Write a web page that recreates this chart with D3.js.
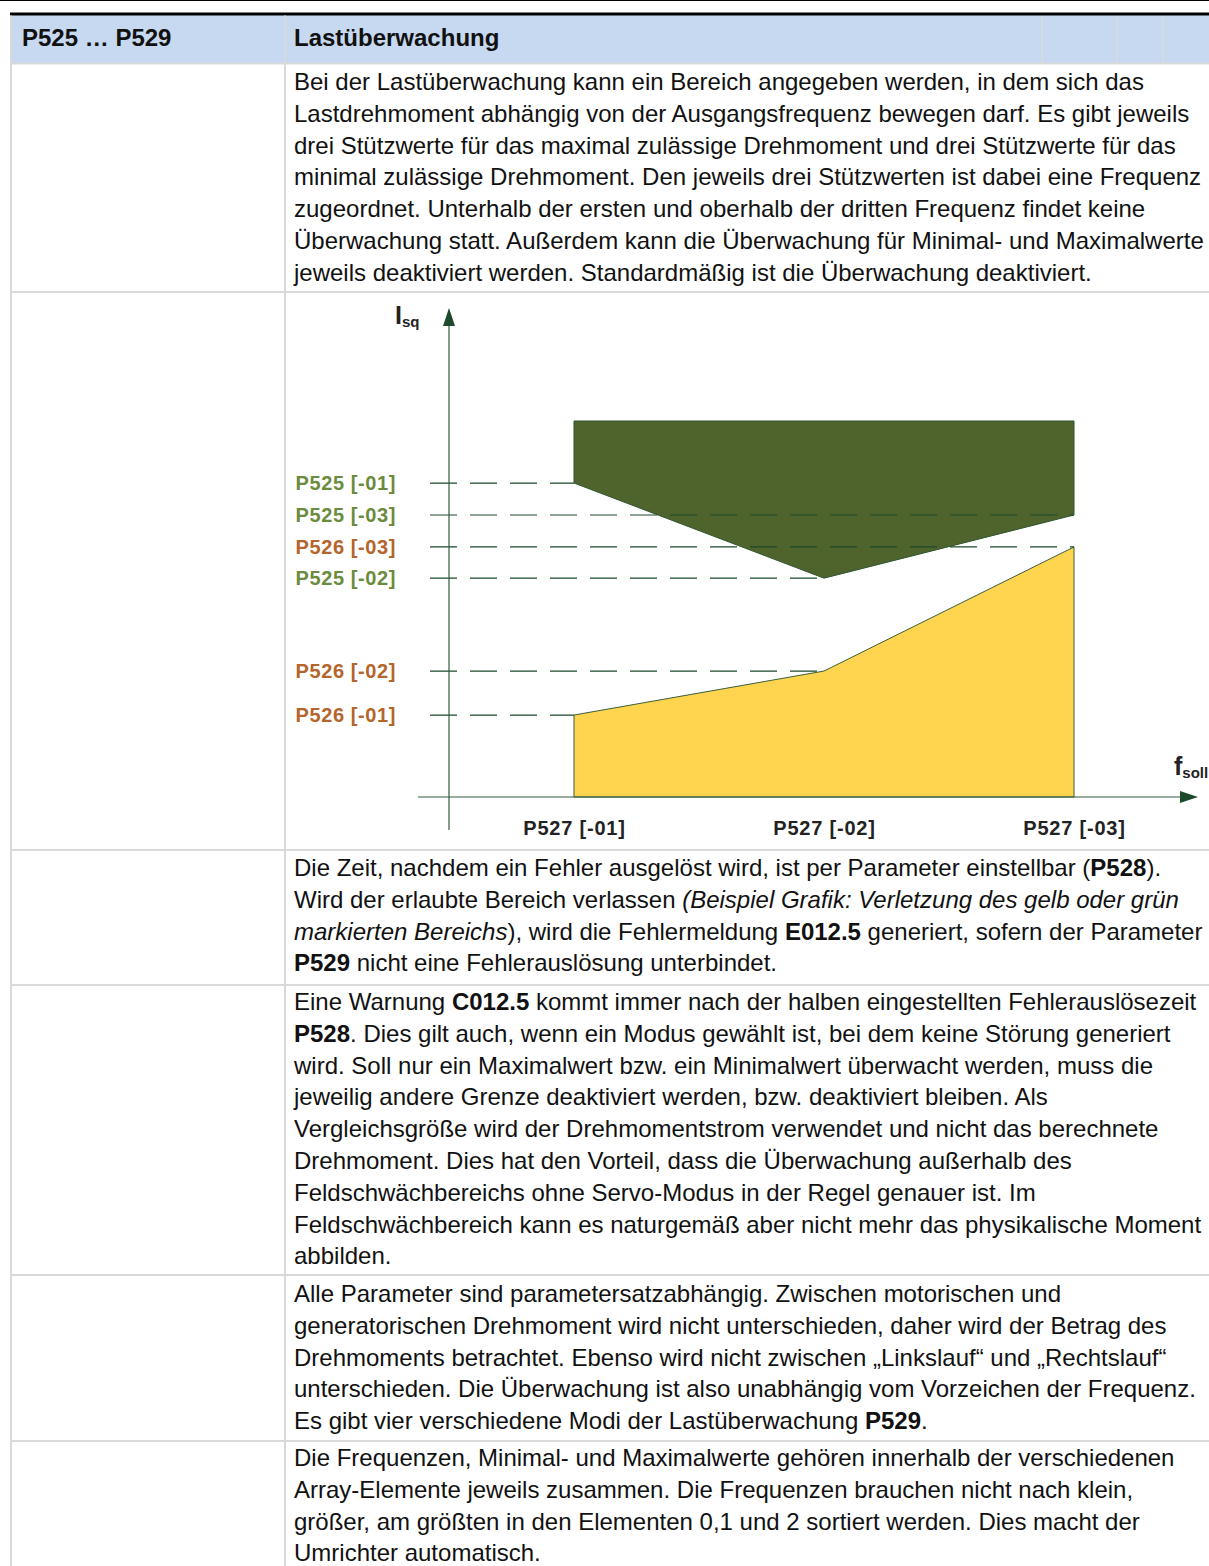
<!DOCTYPE html>
<html><head><meta charset="utf-8">
<script src="https://cdn.jsdelivr.net/npm/d3@7"></script>
<style>
html,body{margin:0;padding:0;background:#fff;}
svg{display:block;}
</style></head>
<body>
<script>
// ---------- chart data ----------
const freqValues = [1, 2, 3];
const freqLabels = ["P527 [-01]", "P527 [-02]", "P527 [-03]"];
const maxLabels = ["P525 [-01]", "P525 [-02]", "P525 [-03]"];
const maxValues = [83.5, 58.2, 75.0];
const minLabels = ["P526 [-01]", "P526 [-02]", "P526 [-03]"];
const minValues = [21.8, 33.5, 66.5];
const upperBound = 100;
const yAxisLabel = ["I", "sq"];
const xAxisLabel = ["f", "soll"];

// ---------- table text ----------
const headerLeft = "P525 … P529";
const headerRight = "Lastüberwachung";
const row2 = [
  [["Bei der Lastüberwachung kann ein Bereich angegeben werden, in dem sich das"]],
  [["Lastdrehmoment abhängig von der Ausgangsfrequenz bewegen darf. Es gibt jeweils"]],
  [["drei Stützwerte für das maximal zulässige Drehmoment und drei Stützwerte für das"]],
  [["minimal zulässige Drehmoment. Den jeweils drei Stützwerten ist dabei eine Frequenz"]],
  [["zugeordnet. Unterhalb der ersten und oberhalb der dritten Frequenz findet keine"]],
  [["Überwachung statt. Außerdem kann die Überwachung für Minimal- und Maximalwerte"]],
  [["jeweils deaktiviert werden. Standardmäßig ist die Überwachung deaktiviert."]]
];
const row4 = [
  [["Die Zeit, nachdem ein Fehler ausgelöst wird, ist per Parameter einstellbar ("], ["P528","b"], [")."]],
  [["Wird der erlaubte Bereich verlassen "], ["(Beispiel Grafik: Verletzung des gelb oder grün","i"]],
  [["markierten Bereichs","i"], ["), wird die Fehlermeldung "], ["E012.5","b"], [" generiert, sofern der Parameter"]],
  [["P529","b"], [" nicht eine Fehlerauslösung unterbindet."]]
];
const row5 = [
  [["Eine Warnung "], ["C012.5","b"], [" kommt immer nach der halben eingestellten Fehlerauslösezeit"]],
  [["P528","b"], [". Dies gilt auch, wenn ein Modus gewählt ist, bei dem keine Störung generiert"]],
  [["wird. Soll nur ein Maximalwert bzw. ein Minimalwert überwacht werden, muss die"]],
  [["jeweilig andere Grenze deaktiviert werden, bzw. deaktiviert bleiben. Als"]],
  [["Vergleichsgröße wird der Drehmomentstrom verwendet und nicht das berechnete"]],
  [["Drehmoment. Dies hat den Vorteil, dass die Überwachung außerhalb des"]],
  [["Feldschwächbereichs ohne Servo-Modus in der Regel genauer ist. Im"]],
  [["Feldschwächbereich kann es naturgemäß aber nicht mehr das physikalische Moment"]],
  [["abbilden."]]
];
const row6 = [
  [["Alle Parameter sind parametersatzabhängig. Zwischen motorischen und"]],
  [["generatorischen Drehmoment wird nicht unterschieden, daher wird der Betrag des"]],
  [["Drehmoments betrachtet. Ebenso wird nicht zwischen „Linkslauf“ und „Rechtslauf“"]],
  [["unterschieden. Die Überwachung ist also unabhängig vom Vorzeichen der Frequenz."]],
  [["Es gibt vier verschiedene Modi der Lastüberwachung "], ["P529","b"], ["."]]
];
const row7 = [
  [["Die Frequenzen, Minimal- und Maximalwerte gehören innerhalb der verschiedenen"]],
  [["Array-Elemente jeweils zusammen. Die Frequenzen brauchen nicht nach klein,"]],
  [["größer, am größten in den Elementen 0,1 und 2 sortiert werden. Dies macht der"]],
  [["Umrichter automatisch."]]
];

// ---------- layout ----------
const W = 1209, H = 1566;
const FONT = "'Liberation Sans', Arial, sans-serif";
const BODY_SIZE = 24, LINE = 31.8, TEXT_X = 294;
const gridColor = "#d9d9d9";

const svg = d3.select("body").append("svg").attr("width", W).attr("height", H)
  .style("font-family", FONT);

// header
svg.append("line").attr("x1",0).attr("x2",W).attr("y1",0.5).attr("y2",0.5)
  .attr("stroke","#000").attr("stroke-width",1);
svg.append("rect").attr("x",10).attr("y",15).attr("width",W-10).attr("height",48).attr("fill","#c6d9f0");
[1042, 1117, 1163].forEach(x => svg.append("line").attr("x1",x).attr("x2",x).attr("y1",15).attr("y2",63)
  .attr("stroke","#d4dbe3").attr("stroke-width",1.5));
svg.append("line").attr("x1",10).attr("x2",W).attr("y1",14).attr("y2",14)
  .attr("stroke","#000").attr("stroke-width",3);

// grid
[63.5, 292, 850, 985, 1275, 1441].forEach(y => svg.append("line").attr("x1",10).attr("x2",W)
  .attr("y1",y).attr("y2",y).attr("stroke",gridColor).attr("stroke-width",2));
[11, 285].forEach(x => svg.append("line").attr("x1",x).attr("x2",x).attr("y1",15.5).attr("y2",H)
  .attr("stroke",gridColor).attr("stroke-width",2));

svg.append("text").attr("x",22).attr("y",46).attr("font-size",24).attr("font-weight","bold")
  .attr("fill","#111").text(headerLeft);
svg.append("text").attr("x",TEXT_X).attr("y",46).attr("font-size",24).attr("font-weight","bold")
  .attr("fill","#111").text(headerRight);

function paragraph(lines, y0) {
  lines.forEach((segs, i) => {
    const t = svg.append("text").attr("x", TEXT_X).attr("y", y0 + i * LINE)
      .attr("font-size", BODY_SIZE).attr("fill", "#111").attr("xml:space","preserve")
      .style("white-space","pre");
    segs.forEach(s => {
      const ts = t.append("tspan").text(s[0]);
      if (s[1] === "b") ts.attr("font-weight", "bold");
      if (s[1] === "i") ts.attr("font-style", "italic");
    });
  });
}
paragraph(row2, 90);
paragraph(row4, 876);
paragraph(row5, 1010);
paragraph(row6, 1302);
paragraph(row7, 1466);

// ---------- chart ----------
const x = d3.scaleLinear().domain([0, 3]).range([324, 1074]);
const y = d3.scaleLinear().domain([0, 100]).range([797, 421]);
const axisColor = "#2f5b3c", darkGreen = "#1d4a2a";
const greenLabel = "#6b8b3d", orangeLabel = "#b4652b";
const g = svg.append("g");

const fArr = freqValues;
const lineGen = d3.line().x(d => x(d[0])).y(d => y(d[1]));
// yellow (minimum) region
const yellowPts = [[fArr[0],0]].concat(fArr.map((f,i)=>[f,minValues[i]])).concat([[fArr[2],0]]);
g.append("path").attr("d", lineGen(yellowPts) + "Z").attr("fill","#ffd44f")
  .attr("stroke","#3a5f3c").attr("stroke-width",1);
// green (maximum) region
const greenPts = [[fArr[0],upperBound],[fArr[2],upperBound]]
  .concat(fArr.map((f,i)=>[f,maxValues[i]]).reverse());
g.append("path").attr("d", lineGen(greenPts) + "Z").attr("fill","#4f632d")
  .attr("stroke","#2f5530").attr("stroke-width",1);

// dashed reference lines
const refs = fArr.map((f,i)=>({f, v:maxValues[i], label:maxLabels[i], color:greenLabel}))
  .concat(fArr.map((f,i)=>({f, v:minValues[i], label:minLabels[i], color:orangeLabel})));
refs.forEach(r => g.append("line").attr("x1",430).attr("x2",x(r.f))
  .attr("y1",y(r.v)).attr("y2",y(r.v)).attr("stroke",darkGreen).attr("stroke-width",1.2)
  .attr("stroke-dasharray","27,13"));

// axes lines with arrows
const x0 = x(0.5);
g.append("line").attr("x1",x0).attr("x2",x0).attr("y1",y(-8.8)).attr("y2",y(126))
  .attr("stroke",axisColor).attr("stroke-width",1.2);
g.append("path").attr("d",`M${x0},308 L${x0-6},326 L${x0+6},326 Z`).attr("fill",darkGreen);
g.append("line").attr("x1",418).attr("x2",1184).attr("y1",y(0)).attr("y2",y(0))
  .attr("stroke",axisColor).attr("stroke-width",1.2);
g.append("path").attr("d",`M1198,${y(0)} L1180,${y(0)-6} L1180,${y(0)+6} Z`).attr("fill",darkGreen);

// left axis labels (via d3 axis)
const labelByVal = new Map(refs.map(r => [r.v, r]));
const leftAxis = d3.axisLeft(y).tickValues(refs.map(r=>r.v)).tickSize(0).tickPadding(53)
  .tickFormat(v => labelByVal.get(v).label);
const la = g.append("g").attr("transform",`translate(${x0},0)`).call(leftAxis);
la.select(".domain").remove();
la.selectAll("text").attr("font-family",FONT).attr("font-size",20).attr("font-weight","bold")
  .attr("letter-spacing",0.6).attr("fill", v => labelByVal.get(v).color);

// bottom axis labels
const bottomAxis = d3.axisBottom(x).tickValues(freqValues).tickSize(0).tickPadding(24)
  .tickFormat((v,i) => freqLabels[i]);
const ba = g.append("g").attr("transform",`translate(0,${y(0)})`).call(bottomAxis);
ba.select(".domain").remove();
ba.selectAll("text").attr("font-family",FONT).attr("font-size",20).attr("font-weight","bold")
  .attr("letter-spacing",0.8).attr("fill","#222");

// axis titles
const yt = g.append("text").attr("x",395).attr("y",324).attr("font-weight","bold").attr("fill","#222");
yt.append("tspan").attr("font-size",25).text(yAxisLabel[0]);
yt.append("tspan").attr("font-size",15).attr("dy",3).text(yAxisLabel[1]);
const xt = g.append("text").attr("x",1174).attr("y",775).attr("font-weight","bold").attr("fill","#222");
xt.append("tspan").attr("font-size",25).text(xAxisLabel[0]);
xt.append("tspan").attr("font-size",15).attr("dy",3).text(xAxisLabel[1]);
</script>
</body></html>
